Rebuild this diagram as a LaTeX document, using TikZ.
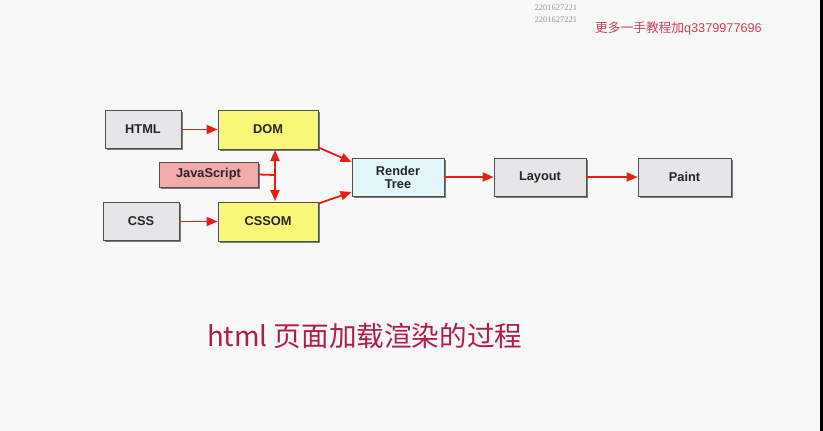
\documentclass[tikz,border=0pt]{standalone}
\usepackage{fontspec}
\setmainfont{Liberation Sans}
\newfontfamily\cjk{Noto Sans CJK SC}
\newfontfamily\serifnum{Liberation Serif}
\usetikzlibrary{arrows.meta,shadows,calc}
\definecolor{bgc}{RGB}{248,248,248}
\definecolor{grayfill}{RGB}{230,230,232}
\definecolor{yellowfill}{RGB}{250,248,120}
\definecolor{pinkfill}{RGB}{244,170,170}
\definecolor{cyanfill}{RGB}{225,247,250}
\definecolor{boxline}{RGB}{80,80,80}
\definecolor{arrowred}{RGB}{230,30,20}
\definecolor{titlered}{RGB}{176,30,70}
\definecolor{notered}{RGB}{205,65,85}
\tikzset{
  box/.style={draw=boxline, line width=0.9pt, font=\fontsize{12.8}{14}\selectfont\bfseries,
    align=center, inner sep=0pt, text=black!85,
    drop shadow={shadow xshift=1.8pt, shadow yshift=-1.8pt, fill=black!60, opacity=0.85}},
  redarrow/.style={draw=arrowred, line width=1.8pt, -{Triangle[length=11pt,width=9pt]}, arrowred},
  redboth/.style={draw=arrowred, line width=1.8pt, {Triangle[length=11pt,width=9pt]}-{Triangle[length=11pt,width=9pt]}, arrowred},
  redline/.style={draw=arrowred, line width=1.8pt}
}
\begin{document}
\begin{tikzpicture}[x=1pt,y=-1pt]
\fill[bgc] (0,0) rectangle (823,431);
\fill[black] (820,0) rectangle (823,431);
\useasboundingbox (0,0) rectangle (823,431);

\node[box, fill=grayfill, minimum width=76pt, minimum height=38pt] (html) at (143,129.5) {HTML};
\node[box, fill=yellowfill, minimum width=100pt, minimum height=39pt] (dom) at (268,129.5) {DOM};
\node[box, fill=pinkfill, minimum width=99pt, minimum height=25pt] (js) at (208.5,174.5) {JavaScript};
\node[box, fill=grayfill, minimum width=76pt, minimum height=38pt] (css) at (141,221.5) {CSS};
\node[box, fill=yellowfill, minimum width=100pt, minimum height=39pt] (cssom) at (268,221.5) {CSSOM};
\node[box, fill=cyanfill, minimum width=92pt, minimum height=38pt] (render) at (398,177) {Render\\[-1pt]Tree};
\node[box, fill=grayfill, minimum width=92pt, minimum height=38pt] (layout) at (540,177) {Layout};
\node[box, fill=grayfill, minimum width=93pt, minimum height=38pt] (paint) at (684.5,177) {Paint};

\coordinate (jsx) at (275,175);
\coordinate (vtop) at (275,150);
\coordinate (vbot) at (275,201);
\draw[redarrow] (html.east) -- (dom.west);
\draw[redarrow] (css.east) -- (cssom.west);
\draw[redarrow] ($(dom.south east)+(0,-2)$) -- ($(render.west)+(0,-15)$);
\draw[redarrow] ($(cssom.north east)+(0,2)$) -- ($(render.west)+(0,15)$);
\draw[redboth] (vtop) -- (vbot);
\draw[redline] (js.east) -- (jsx);
\draw[redarrow] (render.east) -- (layout.west);
\draw[redarrow] (layout.east) -- (paint.west);

\node[text=gray!80, font=\serifnum\fontsize{8.5}{9}\selectfont, anchor=west] (n1) at (531,8) {2201627221};
\node[text=gray!80, font=\serifnum\fontsize{8.5}{9}\selectfont, anchor=west] (n2) at (531,19.5) {2201627221};
\node[text=notered, font=\fontsize{12.7}{14}\selectfont, anchor=west, inner sep=0pt] (note) at (595,28) {{\cjk 更多一手教程加}q3379977696};

\node[text=titlered, font=\cjk\fontsize{27.6}{30}\selectfont, anchor=west, inner sep=0pt] (title) at (207,336) {html 页面加载渲染的过程};
\end{tikzpicture}
\end{document}
